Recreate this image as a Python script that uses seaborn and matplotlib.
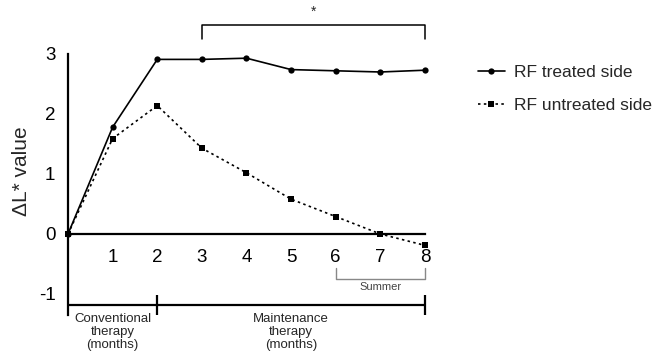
import matplotlib
matplotlib.use("Agg")
import matplotlib.pyplot as plt
import seaborn as sns
import pandas as pd
from matplotlib.lines import Line2D

months = [0, 1, 2, 3, 4, 5, 6, 7, 8]
treated = [0, 1.78, 2.91, 2.91, 2.93, 2.74, 2.72, 2.70, 2.73]
untreated = [0, 1.59, 2.14, 1.43, 1.02, 0.58, 0.29, 0.0, -0.19]
x_ticks = [1, 2, 3, 4, 5, 6, 7, 8]
y_ticks = [-1, 0, 1, 2, 3]
series_names = ["RF treated side", "RF untreated side"]

sns.set_theme(style="white")
plt.rcParams['font.family'] = ['Liberation Sans', 'DejaVu Sans']

df = pd.DataFrame({
    "month": months * 2,
    "value": treated + untreated,
    "series": [series_names[0]] * len(months) + [series_names[1]] * len(months),
})

fig = plt.figure(figsize=(6.52, 3.55), dpi=100)
ax = fig.add_axes([68 / 652, 0, 357 / 652, 1])

sns.lineplot(data=df[df.series == series_names[0]], x="month", y="value", ax=ax,
             color="black", lw=1.2, marker="o", markersize=4.5, markeredgewidth=0,
             linestyle="-", clip_on=False, legend=False)
sns.lineplot(data=df[df.series == series_names[1]], x="month", y="value", ax=ax,
             color="black", lw=1.2, marker="s", markersize=4, markeredgewidth=0,
             linestyle=(0, (1.5, 2)), clip_on=False, legend=False)

ax.set_xlim(0, 8)
ax.set_ylim(-2.017, 3.9)

for s in ["top", "right"]:
    ax.spines[s].set_visible(False)
ax.spines["bottom"].set_position(("data", 0))
ax.spines["bottom"].set_linewidth(1.6)
ax.spines["left"].set_linewidth(1.6)
ax.spines["left"].set_bounds(-1.35, 3)
ax.spines["bottom"].set_bounds(0, 8)
for sp in ax.spines.values():
    sp.set_color("black")

ax.set_xticks([0] + x_ticks)
ax.set_xticklabels([""] + [str(t) for t in x_ticks], fontsize=13.5)
ax.set_yticks(y_ticks)
ax.set_yticklabels([str(t) for t in y_ticks], fontsize=13.5)
ax.tick_params(axis="x", direction="out", length=8, width=1.6, pad=3, colors="black")
ax.tick_params(axis="y", direction="out", length=7, width=1.6, pad=2, colors="black")
ax.set_xlabel("")
ax.set_ylabel("ΔL* value", fontsize=15)
ax.yaxis.set_label_coords(-0.104, (2.017 + 1.05) / 5.917)

# bottom therapy bracket
yb = -1.18
kw = dict(color="black", lw=1.6, clip_on=False, solid_capstyle="butt")
ax.plot([0, 8], [yb, yb], **kw)
ax.plot([2, 2], [yb + 0.17, yb - 0.17], **kw)
ax.plot([8, 8], [yb + 0.17, yb - 0.17], **kw)
ax.text(1, -1.32, "Conventional\ntherapy\n(months)", ha="center", va="top",
        fontsize=9.5, linespacing=1.12)
ax.text(5, -1.32, "Maintenance\ntherapy\n(months)", ha="center", va="top",
        fontsize=9.5, linespacing=1.12)

# summer bracket
gkw = dict(color="#888888", lw=1.0, clip_on=False)
ax.plot([6, 6, 8, 8], [-0.57, -0.75, -0.75, -0.57], **gkw)
ax.text(7, -0.80, "Summer", ha="center", va="top", fontsize=8, color="#444444")

# significance bracket
ax.plot([3, 3, 8, 8], [3.25, 3.49, 3.49, 3.25], color="black", lw=1.1, clip_on=False)
ax.text(5.5, 3.58, "*", ha="center", va="bottom", fontsize=10)

handles = [
    Line2D([0], [0], color="black", lw=1.2, marker="o", markersize=4.5, markeredgewidth=0),
    Line2D([0], [0], color="black", lw=1.2, marker="s", markersize=4, markeredgewidth=0,
           linestyle=(0, (1.5, 2))),
]
fig.legend(handles, series_names, loc="upper left", bbox_to_anchor=(478 / 652, 1 - 65 / 355),
           frameon=False, fontsize=12.5, handlelength=1.55, handletextpad=0.5,
           labelspacing=1.0, borderpad=0, borderaxespad=0)

fig.savefig("out.png", dpi=100)
